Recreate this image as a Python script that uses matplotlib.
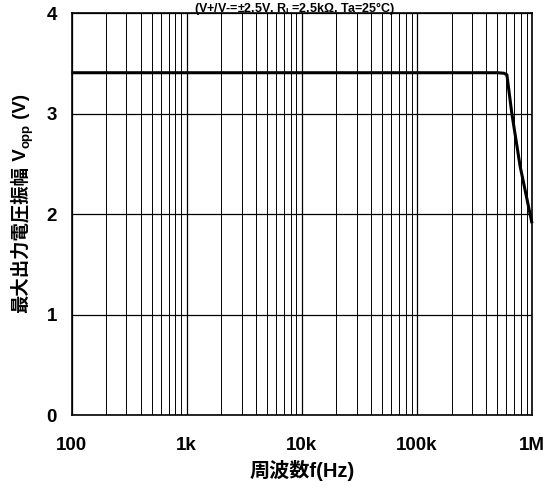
import matplotlib
matplotlib.use("Agg")
import matplotlib.pyplot as plt
from matplotlib.ticker import LogLocator, FixedLocator, NullFormatter
from matplotlib.transforms import IdentityTransform

LATIN = ['Liberation Sans', 'DejaVu Sans']
MIXED = ['Liberation Sans', 'Noto Sans CJK JP', 'DejaVu Sans']
plt.rcParams['font.family'] = LATIN
plt.rcParams['font.weight'] = 'bold'
plt.rcParams['mathtext.fontset'] = 'custom'
plt.rcParams['mathtext.rm'] = 'Liberation Sans:bold'
plt.rcParams['mathtext.it'] = 'Liberation Sans:bold'

# Maximum output swing vs. frequency
freq_hz = [100, 1e3, 1e4, 1e5, 5.0e5, 5.7e5, 6.05e5, 6.67e5, 7.88e5, 1e6]
vopp_v = [3.41, 3.41, 3.41, 3.41, 3.41, 3.405, 3.39, 3.01, 2.48, 1.91]

xtick_vals = [1e2, 1e3, 1e4, 1e5, 1e6]
xtick_text = ['100', '1k', '10k', '100k', '1M']
ytick_vals = [0, 1, 2, 3, 4]

W, H = 549, 490
fig = plt.figure(figsize=(W / 100, H / 100), dpi=100)
ax = fig.add_axes([71.5 / W, 1 - 415 / H, (532 - 71.5) / W, (415 - 13.5) / H])

ax.plot(freq_hz, vopp_v, color='black', lw=2.2, solid_joinstyle='round',
        solid_capstyle='butt', zorder=3, clip_on=False)

ax.set_xscale('log')
ax.set_xlim(1e2, 1e6)
ax.set_ylim(0, 4)
ax.xaxis.set_major_locator(FixedLocator(xtick_vals))
ax.set_xticklabels(xtick_text)
ax.xaxis.set_minor_locator(LogLocator(base=10, subs=range(2, 10)))
ax.xaxis.set_minor_formatter(NullFormatter())
ax.set_yticks(ytick_vals)

ax.grid(True, which='major', color='black', lw=0.9)
ax.grid(True, which='minor', axis='x', color='black', lw=0.7)
ax.tick_params(which='both', length=0, labelsize=13.5)
ax.tick_params(axis='x', pad=16)
ax.tick_params(axis='y', pad=10.5)
for s in ax.spines.values():
    s.set_linewidth(1.2)

ax.set_xlabel('周波数f(Hz)', fontsize=14.5, fontweight='bold', family=MIXED, labelpad=4)

# Y-axis label assembled from pieces so the CJK part and the subscript both render
renderer = fig.canvas.get_renderer()
base_x = 25.5
y_cursor = H - 313
pieces = [
    ('最大出力電圧振幅', MIXED, 13.2, 0, 0),
    (' V', LATIN, 13.5, 0, 0),
    ('opp', LATIN, 9.5, 4, 0.5),
    (' (V)', LATIN, 13.5, 0, 0),
]
for txt, fam, size, shift, gap in pieces:
    y_cursor += gap
    t = fig.text(base_x + shift, y_cursor, txt, transform=IdentityTransform(),
                 rotation=90, rotation_mode='anchor', ha='left', va='baseline',
                 family=fam, fontsize=size, fontweight='bold')
    y_cursor += t.get_window_extent(renderer).height

fig.text(295 / W, 1.0, '(V+/V-=±2.5V, R$_{\\mathregular{L}}$=2.5kΩ, Ta=25°C)',
         ha='center', va='top', fontsize=9, fontweight='bold')

fig.savefig('out.png', dpi=100)
